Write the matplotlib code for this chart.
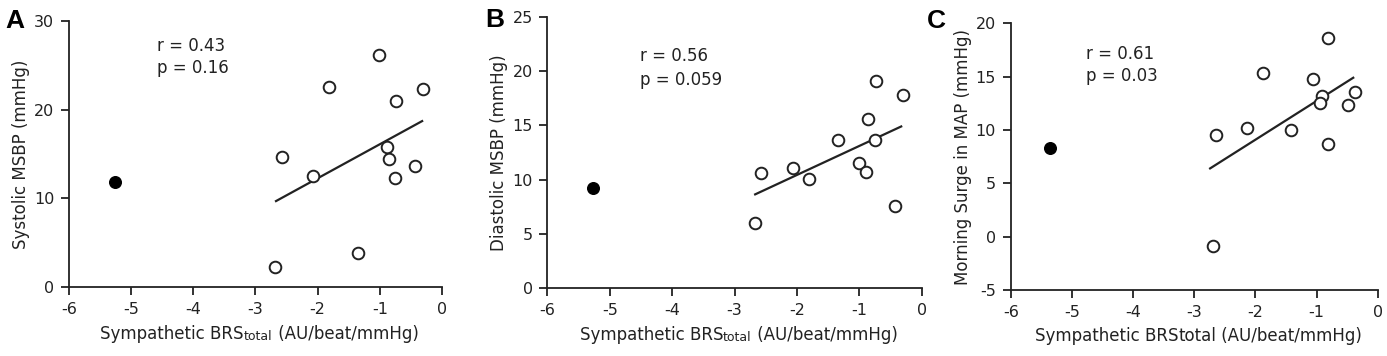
import numpy as np
import matplotlib
matplotlib.use("Agg")
import matplotlib.pyplot as plt

plt.rcParams['font.family'] = ['DejaVu Sans']
plt.rcParams['axes.unicode_minus'] = False

# panel A: systolic MSBP
a_open_x = [-2.68, -2.58, -2.08, -1.81, -1.35, -1.01, -0.89, -0.86, -0.74, -0.76, -0.43, -0.31]
a_open_y = [2.3, 14.7, 12.5, 22.5, 3.9, 26.1, 15.8, 14.4, 21.0, 12.3, 13.6, 22.3]
a_fill_x = [-5.26]
a_fill_y = [11.85]
a_fit_x = [-2.67, -0.32]
a_fit_y = [9.7, 18.7]

# panel B: diastolic MSBP
b_open_x = [-2.68, -2.57, -2.07, -1.80, -1.34, -1.00, -0.89, -0.86, -0.75, -0.74, -0.43, -0.30]
b_open_y = [6.0, 10.6, 11.1, 10.1, 13.7, 11.5, 10.7, 15.6, 13.65, 19.1, 7.6, 17.8]
b_fill_x = [-5.26]
b_fill_y = [9.2]
b_fit_x = [-2.67, -0.33]
b_fit_y = [8.65, 14.9]

# panel C: morning surge in MAP
c_open_x = [-2.69, -2.65, -2.14, -1.87, -1.41, -1.06, -0.91, -0.94, -0.81, -0.82, -0.49, -0.37]
c_open_y = [-0.85, 9.5, 10.2, 15.3, 10.0, 14.8, 13.2, 12.5, 18.66, 8.7, 12.3, 13.6]
c_fill_x = [-5.35]
c_fill_y = [8.34]
c_fit_x = [-2.74, -0.40]
c_fit_y = [6.4, 14.9]

stats = [("r = 0.43", "p = 0.16"), ("r = 0.56", "p = 0.059"), ("r = 0.61", "p = 0.03")]
ylabels = ["Systolic MSBP (mmHg)", "Diastolic MSBP (mmHg)", "Morning Surge in MAP (mmHg)"]
letters = ["A", "B", "C"]

ink = '#222222'
fig = plt.figure(figsize=(13.87, 3.56), dpi=100)

axes_pos = [[0.0497, 0.193, 0.269, 0.749],
            [0.3946, 0.190, 0.270, 0.763],
            [0.7287, 0.1854, 0.2646, 0.749]]
ylims = [(0, 30), (0, 25), (-5, 20)]
yticks = [[0, 10, 20, 30], [0, 5, 10, 15, 20, 25], [-5, 0, 5, 10, 15, 20]]
stat_pos = [(-4.59, 27.1, 24.7), (-4.51, 21.4, 19.2), (-4.77, 17.1, 15.06)]
letter_pos = [(0.0036, 0.921), (0.3497, 0.924), (0.668, 0.921)]
xlab_y = [-0.14, -0.137, -0.14]

panels = [(a_open_x, a_open_y, a_fill_x, a_fill_y, a_fit_x, a_fit_y),
          (b_open_x, b_open_y, b_fill_x, b_fill_y, b_fit_x, b_fit_y),
          (c_open_x, c_open_y, c_fill_x, c_fill_y, c_fit_x, c_fit_y)]

labels = []
for i, (ox, oy, fx, fy, lx, ly) in enumerate(panels):
    ax = fig.add_axes(axes_pos[i])
    ax.plot(lx, ly, color=ink, lw=1.6)
    ax.scatter(ox, oy, s=70, facecolors='white', edgecolors=ink, linewidths=1.4, zorder=3, clip_on=False)
    ax.scatter(fx, fy, s=70, color='black', zorder=3, clip_on=False)
    ax.set_xlim(-6, 0)
    ax.set_ylim(*ylims[i])
    ax.set_xticks(range(-6, 1))
    ax.set_yticks(yticks[i])
    for s in ['top', 'right']:
        ax.spines[s].set_visible(False)
    for s in ['left', 'bottom']:
        ax.spines[s].set_color(ink)
        ax.spines[s].set_linewidth(1.3)
    ax.tick_params(direction='out', length=5.5, width=1.3, color=ink, labelcolor=ink, labelsize=11.5, pad=5)
    ax.set_ylabel(ylabels[i], fontsize=12, color=ink, labelpad=3)

    sx, ry, py = stat_pos[i]
    ax.text(sx, ry, stats[i][0], fontsize=12, color=ink, va='center', ha='left')
    ax.text(sx, py, stats[i][1], fontsize=12, color=ink, va='center', ha='left')

    fig.text(letter_pos[i][0], letter_pos[i][1], letters[i], fontsize=19, fontweight='bold',
             family='Liberation Sans', ha='left', va='baseline', color='black')

    # x label; panels A and B use a small "total"
    t1 = ax.text(0.5, xlab_y[i], "Sympathetic BRS", transform=ax.transAxes, fontsize=12,
                 color=ink, ha='left', va='top')
    tsize = 9 if i < 2 else 12
    t2 = ax.annotate("total", xy=(1, 0), xycoords=t1, fontsize=tsize, color=ink,
                     ha='left', va='bottom')
    t3 = ax.annotate(" (AU/beat/mmHg)", xy=(1, 0), xycoords=t2, fontsize=12, color=ink,
                     ha='left', va='bottom')
    labels.append((i, ax, t1, t2, t3))

# center each x label under its axes
fig.canvas.draw()
r = fig.canvas.get_renderer()
for i, ax, t1, t2, t3 in labels:
    e1 = t1.get_window_extent(r)
    e3 = t3.get_window_extent(r)
    w = e3.x1 - e1.x0
    ab = ax.get_window_extent(r)
    x0 = ab.x0 + (ab.width - w) / 2.0 + 4
    t1.set_position(((x0 - ab.x0) / ab.width, xlab_y[i]))

fig.savefig('out.png', dpi=100)
